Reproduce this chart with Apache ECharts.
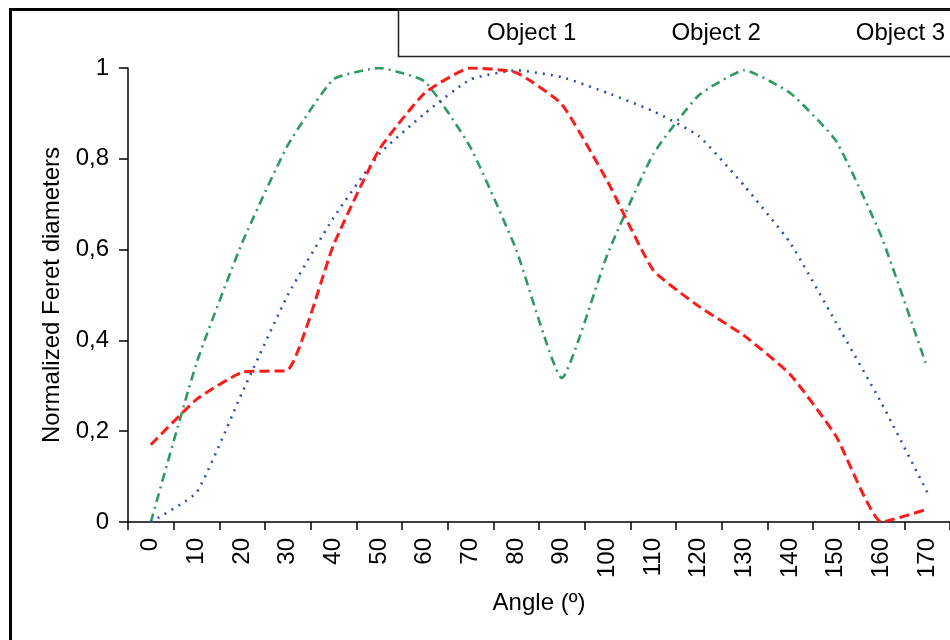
<!DOCTYPE html>
<html>
<head>
<meta charset="utf-8">
<script src="https://cdn.jsdelivr.net/npm/echarts@6/dist/echarts.min.js"></script>
<style>
html,body{margin:0;padding:0;background:#fff;}
#chart{width:950px;height:640px;}
</style>
</head>
<body>
<div id="chart"></div>
<script>
const angles = ['0','10','20','30','40','50','60','70','80','90','100','110','120','130','140','150','160','170'];
const object1 = [0.17,0.27,0.33,0.335,0.61,0.82,0.945,1.0,0.99,0.92,0.75,0.555,0.475,0.41,0.325,0.19,0.0,0.028];
const object2 = [0.0,0.065,0.285,0.5,0.67,0.81,0.9,0.975,0.995,0.98,0.945,0.905,0.85,0.74,0.615,0.44,0.262,0.066];
const object3 = [0.0,0.35,0.615,0.83,0.975,1.0,0.97,0.825,0.6,0.317,0.59,0.81,0.94,0.995,0.945,0.84,0.628,0.34];
const seriesNames = ['Object 1','Object 2','Object 3'];
const yTicks = {min:0, max:1, interval:0.2};

const chart = echarts.init(document.getElementById('chart'));
const FONT = '"Liberation Sans", Arial, sans-serif';
chart.setOption({
  animation:false,
  backgroundColor:'#ffffff',
  textStyle:{fontFamily:FONT},
  graphic:[
    {type:'rect', shape:{x:10.5, y:9.5, width:1000, height:700}, style:{fill:'none', stroke:'#000', lineWidth:3}, silent:true},
    {type:'rect', shape:{x:398.5, y:9.5, width:600, height:47}, style:{fill:'none', stroke:'#222', lineWidth:1.5}, silent:true}
  ],
  legend:{
    data:seriesNames,
    left:477, top:16, width:700,
    itemWidth:0, itemHeight:0, itemGap:90,
    icon:'rect',
    textStyle:{fontSize:24, color:'#000', fontFamily:FONT}
  },
  grid:{left:128, top:68, width:828, height:454, containLabel:false},
  xAxis:{
    type:'category', data:angles, boundaryGap:true,
    name:'Angle (º)', nameLocation:'middle', nameGap:69,
    nameTextStyle:{fontSize:24, color:'#000', fontFamily:FONT},
    axisLine:{show:true, lineStyle:{color:'#000', width:1.5}},
    axisTick:{show:true, length:8, lineStyle:{color:'#000', width:1.5}},
    axisLabel:{rotate:90, margin:16, fontSize:24, color:'#000', fontFamily:FONT},
    splitLine:{show:false}
  },
  yAxis:{
    type:'value', min:yTicks.min, max:yTicks.max, interval:yTicks.interval,
    name:'Normalized Feret diameters', nameLocation:'middle', nameGap:64, nameRotate:90,
    nameTextStyle:{fontSize:24, color:'#000', fontFamily:FONT},
    axisLine:{show:true, lineStyle:{color:'#000', width:1.5}},
    axisTick:{show:true, length:9, lineStyle:{color:'#000', width:1.5}},
    axisLabel:{margin:19, fontSize:24, color:'#000', fontFamily:FONT,
      formatter:v => (v===0||v===1) ? String(v) : v.toFixed(1).replace('.', ',')},
    splitLine:{show:false}
  },
  series:[
    {name:'Object 3', type:'line', data:object3, smooth:0.15, symbol:'none', showSymbol:false, color:'#2e9a62',
     lineStyle:{color:'#2e9a62', width:2.6, type:[9,5,2,5]}},
    {name:'Object 2', type:'line', data:object2, smooth:0.15, symbol:'none', showSymbol:false, color:'#2f4fa6',
     lineStyle:{color:'#2f4fa6', width:2.6, type:[2,6]}},
    {name:'Object 1', type:'line', data:object1, smooth:0.15, symbol:'none', showSymbol:false, color:'#ff1a1a',
     lineStyle:{color:'#ff1a1a', width:3, type:[10,5]}}
  ]
});
</script>
</body>
</html>
